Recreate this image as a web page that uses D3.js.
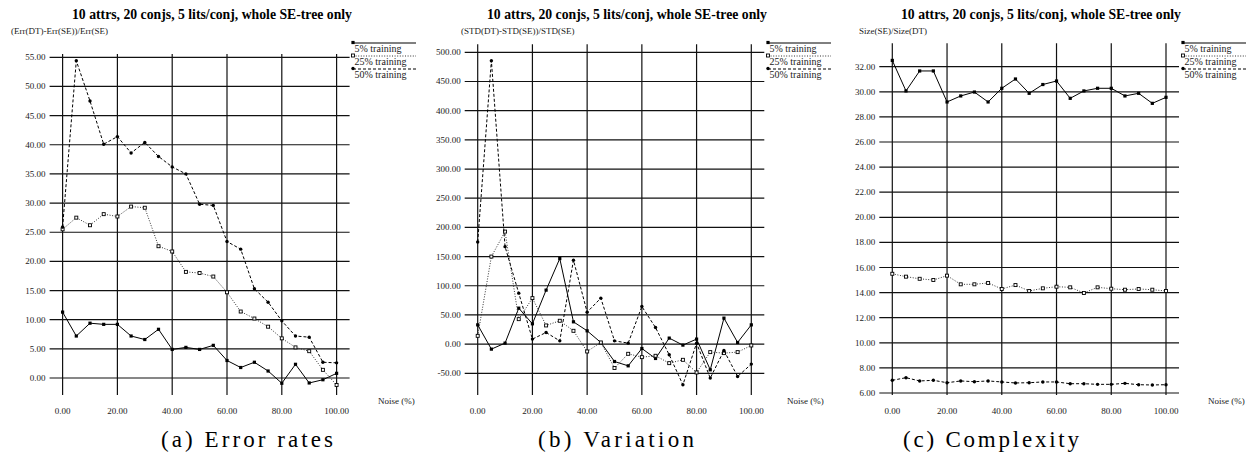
<!DOCTYPE html>
<html>
	<head>
		<meta charset="utf-8">
		<title>SE-tree vs DT, 10 attrs, 20 conjs</title>
		<style>
* {
	margin: 0;
	padding: 0;
}
html,
body {
	width: 100%;
	height: 100%;
	background-color: #fff;
}
svg {
	display: block;
	font-family: "Liberation Serif", "Times New Roman", serif;
}
		</style>
	</head>
	<body>
		<div id="wrapper"></div>
		<script src="https://cdn.jsdelivr.net/npm/d3@7"></script>
		<script>

var noise = [ 0, 5, 10, 15, 20, 25, 30, 35, 40, 45, 50, 55, 60, 65, 70, 75, 80, 85, 90, 95, 100 ];
var xTicks = [ 0, 20, 40, 60, 80, 100 ];
var seriesNames = [ '5% training', '25% training', '50% training' ];
var title = '10 attrs, 20 conjs, 5 lits/conj, whole SE-tree only';

// (a) error rates
var errTicks = d3.range( 0, 55.01, 5 );
var err5 = [ 11.3, 7.2, 9.4, 9.2, 9.2, 7.2, 6.6, 8.35, 4.9, 5.25, 4.9, 5.6, 3.0, 1.8, 2.7, 1.2, -0.9, 2.35, -0.85, -0.3, 0.8 ];
var err25 = [ 25.5, 27.5, 26.2, 28.1, 27.7, 29.4, 29.2, 22.6, 21.7, 18.2, 18.0, 17.4, 14.7, 11.4, 10.2, 8.8, 6.8, 5.25, 4.6, 1.4, -1.2 ];
var err50 = [ 25.9, 54.4, 47.5, 40.1, 41.4, 38.6, 40.4, 38.0, 36.2, 35.0, 29.8, 29.6, 23.4, 22.1, 15.3, 13.0, 9.8, 7.2, 7.0, 2.7, 2.6 ];

// (b) variation
var varTicks = d3.range( -50, 500.01, 50 );
var var5 = [ 33, -8.6, 1.7, 61.6, 34.8, 92.5, 146.6, 38.2, 22.8, 2.8, -29.8, -37.2, -7.5, -24.6, 10.3, -1.7, 8.6, -44, 44.5, 2.8, 33 ];
var var25 = [ 14.2, 150, 192.8, 42.8, 78.8, 32, 40, 22.8, -12.6, 2.8, -41, -16.6, -22.3, -20, -32.6, -26.9, -48.6, -13.7, -15.4, -13.7, -2.3 ];
var var50 = [ 175, 485.6, 167, 87.3, 8.6, 19.9, 5.6, 143.8, 54.8, 78.8, 5.6, 1.7, 64.4, 28.4, -18.3, -69.7, 1.7, -58.2, -11, -55.5, -34.2 ];

// (c) complexity
var sizeTicks = d3.range( 6, 32.01, 2 );
var size5 = [ 32.5, 30.07, 31.66, 31.66, 29.19, 29.67, 29.98, 29.19, 30.28, 31.02, 29.88, 30.58, 30.86, 29.48, 30.07, 30.28, 30.28, 29.67, 29.88, 29.08, 29.56 ];
var size25 = [ 15.5, 15.27, 15.1, 15.0, 15.35, 14.66, 14.66, 14.77, 14.29, 14.6, 14.13, 14.34, 14.47, 14.42, 13.97, 14.42, 14.31, 14.23, 14.29, 14.23, 14.13 ];
var size50 = [ 7.01, 7.22, 6.96, 7.01, 6.82, 6.96, 6.9, 6.96, 6.88, 6.8, 6.82, 6.88, 6.88, 6.74, 6.74, 6.69, 6.69, 6.77, 6.66, 6.64, 6.66 ];

var panels = [
	{
		yLabel: '(Err(DT)-Err(SE))/Err(SE)', caption: '(a) Error rates', ticks: errTicks,
		series: [ err5, err25, err50 ],
		x0: 62.6, x1: 336.6, yLo: 378, yHi: 57.3, top: 54, bottom: 395,
		titleX: 212, yLabelX: 11, legendX: 353, noiseX: 378, captionX: 247, captionW: 172
	},
	{
		yLabel: '(STD(DT)-STD(SE))/STD(SE)', caption: '(b) Variation', ticks: varTicks,
		series: [ var5, var25, var50 ],
		x0: 477.7, x1: 751.3, yLo: 373.3, yHi: 52.3, top: 44.3, bottom: 395,
		titleX: 627, yLabelX: 461, legendX: 768, noiseX: 787, captionX: 616, captionW: 156
	},
	{
		yLabel: 'Size(SE)/Size(DT)', caption: '(c) Complexity', ticks: sizeTicks,
		series: [ size5, size25, size50 ],
		x0: 892.3, x1: 1166, yLo: 393, yHi: 66.7, top: 43.3, bottom: 395,
		titleX: 1041, yLabelX: 859, legendX: 1183, noiseX: 1208, captionX: 991, captionW: 176
	}
];

var lineStyles = [
	{ dash: null, color: '#000', width: 1 },
	{ dash: '1,1.6', color: '#333', width: 1 },
	{ dash: '3,2', color: '#000', width: 1 }
];

var svg = d3.select( '#wrapper' ).append( 'svg' )
	.attr( 'width', 1253 )
	.attr( 'height', 457 )
	.attr( 'font-family', '"Liberation Serif", "Times New Roman", serif' );

function drawMarker( g, k, cx, cy ) {
	if ( k === 0 ) {
		g.append( 'rect' )
			.attr( 'x', cx - 1.6 ).attr( 'y', cy - 1.6 )
			.attr( 'width', 3.2 ).attr( 'height', 3.2 )
			.style( 'fill', '#000' );
	} else if ( k === 1 ) {
		g.append( 'rect' )
			.attr( 'x', cx - 1.5 ).attr( 'y', cy - 1.5 )
			.attr( 'width', 3 ).attr( 'height', 3 )
			.style( 'fill', '#fff' )
			.style( 'stroke', '#000' )
			.style( 'stroke-width', 0.9 );
	} else {
		g.append( 'circle' )
			.attr( 'cx', cx ).attr( 'cy', cy )
			.attr( 'r', 1.7 )
			.style( 'fill', '#000' );
	}
}

panels.forEach( function ( p ) {

	var g = svg.append( 'g' );
	var t0 = p.ticks[0];
	var t1 = p.ticks[p.ticks.length - 1];

	var x = d3.scaleLinear().domain( [ 0, 100 ] ).range( [ p.x0, p.x1 ] );
	var y = d3.scaleLinear().domain( [ t0, t1 ] ).range( [ p.yLo, p.yHi ] );

	// title and y label
	g.append( 'text' )
		.attr( 'x', p.titleX - 140 ).attr( 'y', 19 )
		.attr( 'textLength', 280 )
		.attr( 'lengthAdjust', 'spacingAndGlyphs' )
		.style( 'font-size', '14px' )
		.style( 'font-weight', 'bold' )
		.text( title );

	g.append( 'text' )
		.attr( 'x', p.yLabelX ).attr( 'y', 34 )
		.style( 'font-size', '9px' )
		.style( 'fill', '#222' )
		.text( p.yLabel );

	// grid
	g.selectAll( 'line.h' )
		.data( p.ticks )
		.enter()
		.append( 'line' )
		.attr( 'x1', p.x0 - 13 ).attr( 'x2', p.x1 + 13 )
		.attr( 'y1', function ( d ) { return y( d ); } )
		.attr( 'y2', function ( d ) { return y( d ); } )
		.style( 'stroke', '#111' )
		.style( 'stroke-width', 1.2 );

	g.selectAll( 'line.v' )
		.data( xTicks )
		.enter()
		.append( 'line' )
		.attr( 'x1', function ( d ) { return x( d ); } )
		.attr( 'x2', function ( d ) { return x( d ); } )
		.attr( 'y1', p.top ).attr( 'y2', p.bottom )
		.style( 'stroke', '#111' )
		.style( 'stroke-width', 1.2 );

	// tick labels
	g.selectAll( 'text.yt' )
		.data( p.ticks )
		.enter()
		.append( 'text' )
		.attr( 'x', p.x0 - 17 )
		.attr( 'y', function ( d ) { return y( d ) + 3; } )
		.attr( 'text-anchor', 'end' )
		.style( 'font-size', '9px' )
		.style( 'fill', '#222' )
		.text( function ( d ) { return d.toFixed( 2 ); } );

	g.selectAll( 'text.xt' )
		.data( xTicks )
		.enter()
		.append( 'text' )
		.attr( 'x', function ( d ) { return x( d ); } )
		.attr( 'y', 413.5 )
		.attr( 'text-anchor', 'middle' )
		.style( 'font-size', '9px' )
		.style( 'fill', '#222' )
		.text( function ( d ) { return d.toFixed( 2 ); } );

	g.append( 'text' )
		.attr( 'x', p.noiseX ).attr( 'y', 403.5 )
		.style( 'font-size', '9px' )
		.style( 'fill', '#222' )
		.text( 'Noise (%)' );

	// series
	p.series.forEach( function ( values, k ) {
		var st = lineStyles[k];
		var line = d3.line()
			.x( function ( d, i ) { return x( noise[i] ); } )
			.y( function ( d ) { return y( d ); } );

		g.append( 'path' )
			.datum( values )
			.attr( 'd', line )
			.style( 'fill', 'none' )
			.style( 'stroke', st.color )
			.style( 'stroke-width', st.width )
			.style( 'stroke-dasharray', st.dash );

		values.forEach( function ( d, i ) {
			drawMarker( g, k, x( noise[i] ), y( d ) );
		} );
	} );

	// legend
	seriesNames.forEach( function ( name, k ) {
		var st = lineStyles[k];
		var ly = 43 + k * 13;
		g.append( 'line' )
			.attr( 'x1', p.legendX ).attr( 'x2', p.legendX + 63 )
			.attr( 'y1', ly ).attr( 'y2', ly )
			.style( 'stroke', st.color )
			.style( 'stroke-width', st.width )
			.style( 'stroke-dasharray', st.dash );
		drawMarker( g, k, p.legendX, ly - 0.5 );
		g.append( 'text' )
			.attr( 'x', p.legendX + 1.5 ).attr( 'y', ly + 8.5 )
			.style( 'font-size', '10px' )
			.style( 'fill', '#222' )
			.text( name );
	} );

	// caption
	g.append( 'text' )
		.attr( 'x', p.captionX - p.captionW / 2 ).attr( 'y', 447 )
		.attr( 'textLength', p.captionW )
		.attr( 'lengthAdjust', 'spacing' )
		.style( 'font-size', '23px' )
		.text( p.caption );

} );
		</script>
	</body>
</html>
